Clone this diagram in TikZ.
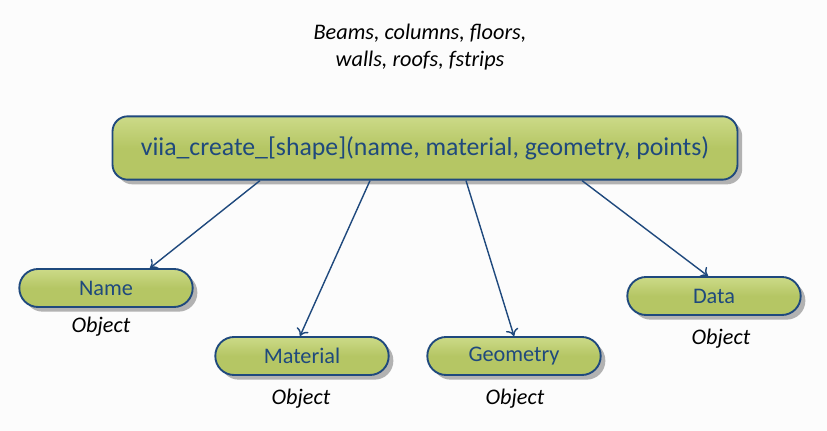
\documentclass[tikz,border=0pt]{standalone}
\usepackage{fontspec}
\setmainfont{Carlito}
\usetikzlibrary{shadows,arrows.meta}
\definecolor{boxgreen}{RGB}{181,198,100}
\definecolor{boxlight}{RGB}{204,218,136}
\definecolor{edgeblue}{RGB}{31,73,125}
\definecolor{bgpaper}{RGB}{252,252,252}
\begin{document}
\begin{tikzpicture}[
  x=0.03cm, y=-0.03cm,
  every node/.style={font=\fontsize{19}{23}\selectfont},
  funcbox/.style={rectangle, draw=edgeblue, line width=1.6pt, rounded corners=13pt,
    top color=boxlight, bottom color=boxgreen, middle color=boxgreen,
    minimum width=18.75cm, minimum height=1.9cm, text=edgeblue,
    font=\fontsize{22}{26}\selectfont,
    drop shadow={shadow xshift=0.14cm, shadow yshift=-0.14cm, fill=black!30, opacity=1}},
  argbox/.style={rectangle, draw=edgeblue, line width=1.6pt, rounded corners=16pt,
    top color=boxlight, bottom color=boxgreen, middle color=boxgreen,
    minimum width=5.2cm, minimum height=1.14cm, text=edgeblue,
    drop shadow={shadow xshift=0.14cm, shadow yshift=-0.14cm, fill=black!30, opacity=1}},
  typelabel/.style={font=\fontsize{19}{23}\selectfont\itshape},
  link/.style={draw=edgeblue, line width=1.2pt, -{To[length=6pt,width=11pt]}},
]

% Canvas
\fill[bgpaper] (0,0) rectangle (827,431);
\useasboundingbox (0,0) rectangle (827,431);

% Shapes covered by the function
\node[typelabel, align=center] (shapes) at (420,47)
  {Beams, columns, floors,\\walls, roofs, fstrips};

% Main function
\node[funcbox] (func) at (425,148)
  {viia\_create\_[shape](name, material, geometry, points)};

% Arguments
\node[argbox] (name) at (106,288) {Name};
\node[argbox] (material) at (302,356) {Material};
\node[argbox] (geometry) at (514,356) {Geometry};
\node[argbox] (data) at (714,296) {Data};

% Argument types
\node[typelabel] (nametype) at (101,327) {Object};
\node[typelabel] (materialtype) at (301,399) {Object};
\node[typelabel] (geometrytype) at (515,399) {Object};
\node[typelabel] (datatype) at (721,339) {Object};

% Connectors
\draw[link] (func.south -| 260,0) -- (name.north -| 150,0);
\draw[link] (func.south -| 370,0) -- (material.north -| 300,0);
\draw[link] (func.south -| 466,0) -- (geometry.north -| 514,0);
\draw[link] (func.south -| 582,0) -- (data.north -| 708,0);

\end{tikzpicture}
\end{document}
